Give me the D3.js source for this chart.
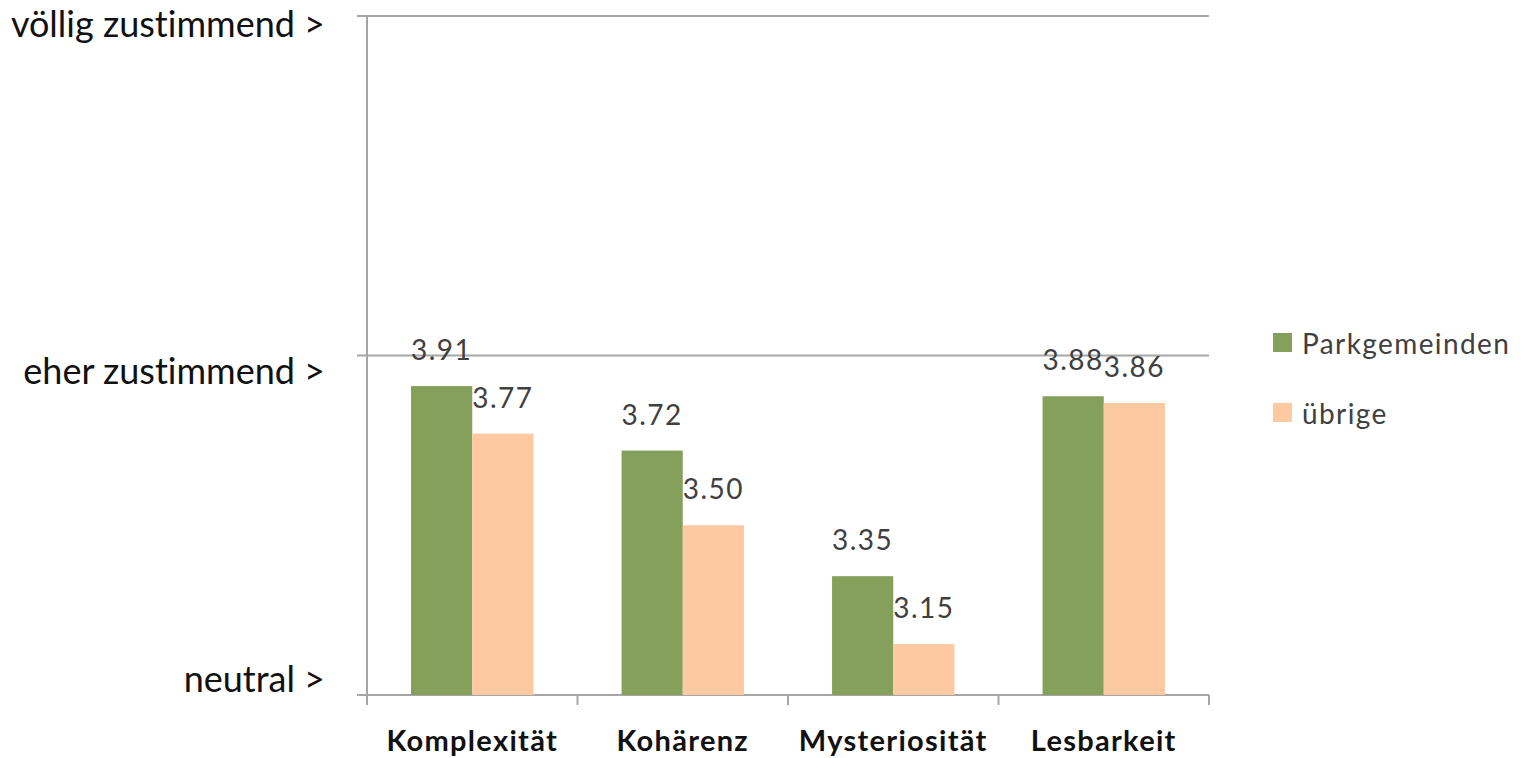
<!DOCTYPE html>
<html>
<head>
<meta charset="utf-8">
<script src="https://cdn.jsdelivr.net/npm/d3@7"></script>
<style>
  body { margin: 0; background: #fff; }
  text { font-family: Lato, "Open Sans", sans-serif; font-variant-ligatures: none; }
</style>
</head>
<body>
<div id="viz"></div>
<script>
// categories and series
const categories = ["Komplexität", "Kohärenz", "Mysteriosität", "Lesbarkeit"];
const seriesNames = ["Parkgemeinden", "übrige"];
const parkValues = [3.91, 3.72, 3.35, 3.88];
const uebrigeValues = [3.77, 3.50, 3.15, 3.86];
const seriesColors = ["#84a05a", "#fdc9a1"];
// y tick labels (value -> text)
const tickValues = [5, 4, 3];
const tickLabels = ["völlig zustimmend >", "eher zustimmend >", "neutral >"];

const width = 1528, height = 758;
const plot = { left: 367, right: 1209, top: 16, bottom: 695 };

const svg = d3.select("#viz")
  .append("svg")
  .attr("width", width)
  .attr("height", height);

const y = d3.scaleLinear().domain([3, 5]).range([plot.bottom, plot.top]);
const x0 = d3.scaleBand().domain(categories).range([plot.left, plot.right]).padding(0);
const x1 = d3.scaleBand().domain(seriesNames).range([0, x0.bandwidth()])
  .paddingInner(0).paddingOuter(0.72);

// gridlines
svg.append("g").selectAll("line")
  .data(tickValues)
  .join("line")
  .attr("x1", plot.left - 10)
  .attr("x2", plot.right)
  .attr("y1", d => y(d))
  .attr("y2", d => y(d))
  .style("stroke", "#a6a6a6")
  .style("stroke-width", 2);

// y axis line
svg.append("line")
  .attr("x1", plot.left).attr("x2", plot.left)
  .attr("y1", y(5)).attr("y2", plot.bottom)
  .style("stroke", "#a6a6a6").style("stroke-width", 2);

// x axis ticks
svg.append("g").selectAll("line")
  .data(d3.range(categories.length + 1))
  .join("line")
  .attr("x1", i => plot.left + i * x0.step())
  .attr("x2", i => plot.left + i * x0.step())
  .attr("y1", plot.bottom)
  .attr("y2", plot.bottom + 10)
  .style("stroke", "#a6a6a6").style("stroke-width", 2);

// y labels - offset from gridline like the original
const labelShift = { 5: 21, 4: 28, 3: -3 };
svg.append("g").selectAll("text")
  .data(tickValues)
  .join("text")
  .attr("x", 325)
  .attr("y", d => y(d) + labelShift[d])
  .attr("text-anchor", "end")
  .style("font-size", "36px")
  .style("fill", "#111")
  .text((d, i) => tickLabels[i]);

// bars
const rows = categories.map((c, i) => ({
  cat: c,
  vals: [
    { s: seriesNames[0], v: parkValues[i], color: seriesColors[0] },
    { s: seriesNames[1], v: uebrigeValues[i], color: seriesColors[1] }
  ]
}));

const groups = svg.append("g").selectAll("g")
  .data(rows)
  .join("g")
  .attr("transform", d => `translate(${x0(d.cat)},0)`);

groups.selectAll("rect")
  .data(d => d.vals)
  .join("rect")
  .attr("x", d => x1(d.s))
  .attr("y", d => y(d.v))
  .attr("width", x1.bandwidth())
  .attr("height", d => y(3) - y(d.v))
  .attr("fill", d => d.color);

groups.selectAll("text")
  .data(d => d.vals)
  .join("text")
  .attr("x", d => x1(d.s) + x1.bandwidth() / 2)
  .attr("y", d => y(d.v) - 26)
  .attr("text-anchor", "middle")
  .style("font-size", "28px")
  .style("letter-spacing", "1.5px")
  .style("fill", "#404040")
  .text(d => d.v.toFixed(2));

// x labels
svg.append("g").selectAll("text")
  .data(categories)
  .join("text")
  .attr("x", d => x0(d) + x0.bandwidth() / 2)
  .attr("y", 751)
  .attr("text-anchor", "middle")
  .style("font-size", "29px")
  .style("letter-spacing", "1.3px")
  .style("font-weight", "bold")
  .style("fill", "#111")
  .text(d => d);

// legend
const legend = svg.append("g").attr("transform", "translate(1273,333)");
seriesNames.forEach((name, i) => {
  legend.append("rect")
    .attr("x", 0).attr("y", i * 70)
    .attr("width", 19).attr("height", 19)
    .attr("fill", seriesColors[i]);
  legend.append("text")
    .attr("x", 29).attr("y", i * 70 + 21)
    .style("font-size", "28px")
    .style("letter-spacing", "1.4px")
    .style("fill", "#404040")
    .text(name);
});
</script>
</body>
</html>
